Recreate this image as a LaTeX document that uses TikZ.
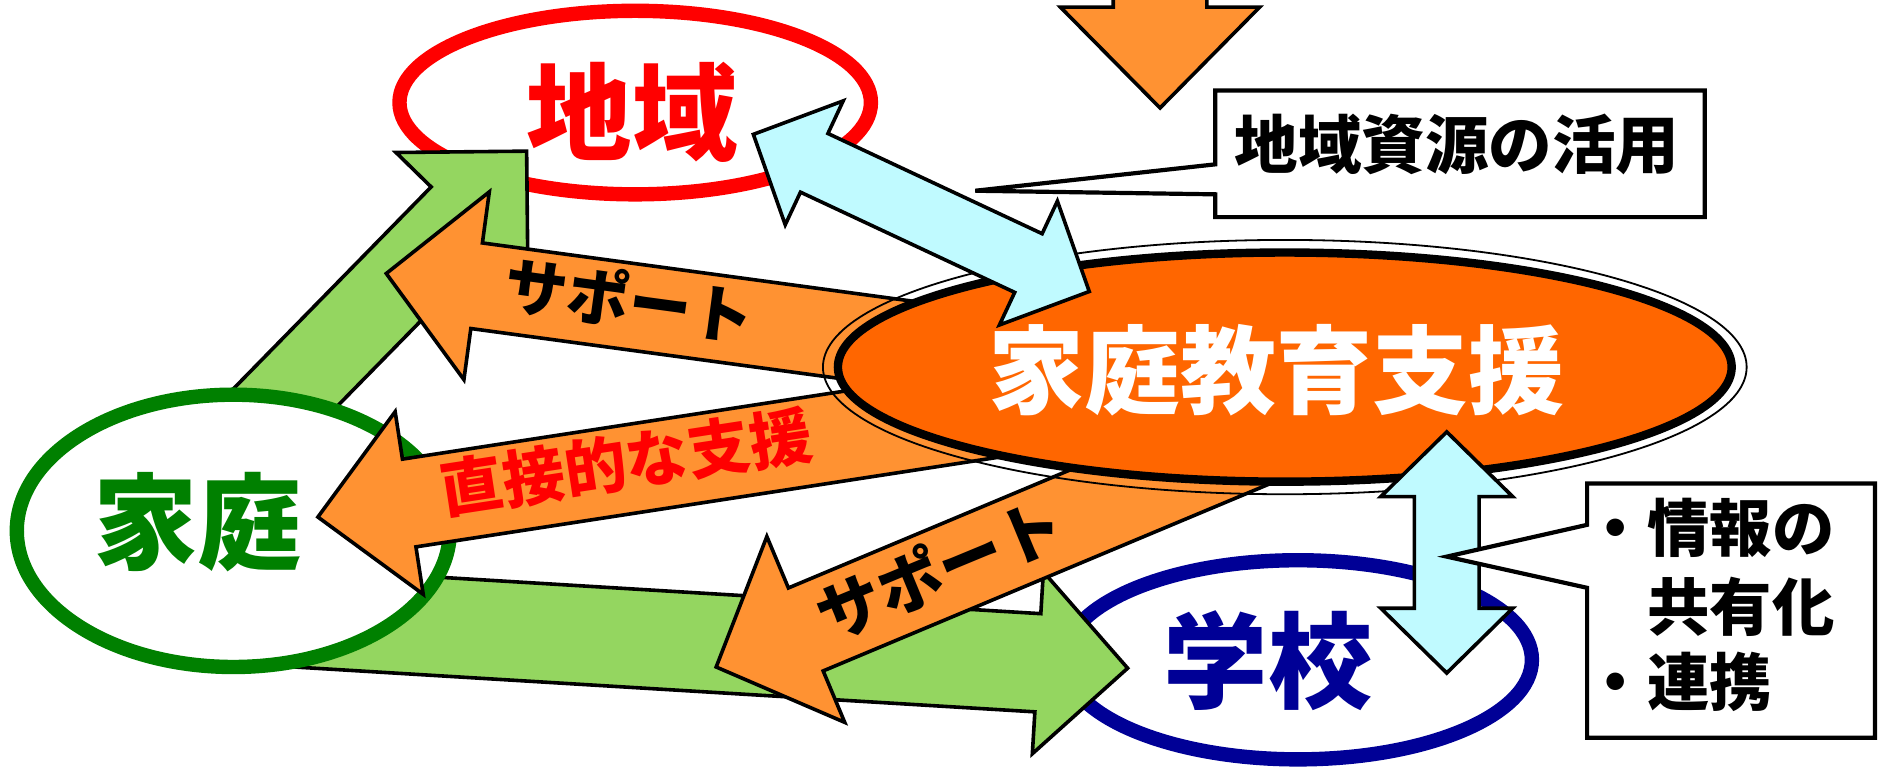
\documentclass[tikz,border=0pt]{standalone}
\usepackage{fontspec}
\newfontfamily\jp{Noto Sans CJK JP}
\usetikzlibrary{calc,shapes.geometric}
\definecolor{arrOrange}{RGB}{255,146,50}
\definecolor{cenOrange}{RGB}{255,102,0}
\definecolor{arrGreen}{RGB}{148,214,96}
\definecolor{arrCyan}{RGB}{192,250,255}
\definecolor{schoolBlue}{RGB}{0,0,150}
\definecolor{homeGreen}{RGB}{0,128,0}
\definecolor{areaRed}{RGB}{255,0,0}
\newcommand{\setfs}[1]{\fontsize{#1}{#1}\selectfont}
% style, start, tip, shaft half-width, head half-width, head length
\newcommand{\singlearrow}[6]{%
  \coordinate (hb) at ($(#3)!#6!(#2)$);
  \path[#1] ($(#2)!#4!90:(#3)$) -- ($(hb)!#4!90:(#3)$) -- ($(hb)!#5!90:(#3)$) -- (#3)
    -- ($(hb)!#5!-90:(#3)$) -- ($(hb)!#4!-90:(#3)$) -- ($(#2)!#4!-90:(#3)$) -- cycle;
}
\newcommand{\doublearrow}[6]{%
  \coordinate (ha) at ($(#2)!#6!(#3)$);
  \coordinate (hbb) at ($(#3)!#6!(#2)$);
  \path[#1] (#2) -- ($(ha)!#5!90:(#3)$) -- ($(ha)!#4!90:(#3)$) -- ($(hbb)!#4!90:(#3)$)
    -- ($(hbb)!#5!90:(#3)$) -- (#3) -- ($(hbb)!#5!-90:(#3)$) -- ($(hbb)!#4!-90:(#3)$)
    -- ($(ha)!#4!-90:(#3)$) -- ($(ha)!#5!-90:(#3)$) -- cycle;
}
\begin{document}
\begin{tikzpicture}[x=1pt,y=-1pt,
  blk/.style={draw=black,line width=3pt,line join=miter,miter limit=20},
  orangeArrow/.style={blk,fill=arrOrange},
  greenArrow/.style={blk,fill=arrGreen},
  cyanArrow/.style={blk,fill=arrCyan},
  ell/.style={ellipse,fill=white,line width=12pt,inner sep=0pt},
  callout/.style={draw=black,line width=3.5pt,fill=white,line join=miter},
  bigtxt/.style={inner sep=0pt,font={\jp\bfseries\setfs{#1}}},
  ]
\useasboundingbox (0,0) rectangle (1568,642);
\clip (0,0) rectangle (1568,642);

% named end points of the block arrows
\coordinate (topS) at (967,-30);   \coordinate (topT) at (967,90);
\coordinate (g1S) at (200,370);    \coordinate (g1T) at (439,126);
\coordinate (g2S) at (230,514);    \coordinate (g2T) at (940,557);
\coordinate (o1S) at (780,290);    \coordinate (o1T) at (322,228);
\coordinate (o2S) at (850,341);    \coordinate (o2T) at (265,431);
\coordinate (o3S) at (1060,362);   \coordinate (o3T) at (597,556);
\coordinate (c1A) at (628,112);    \coordinate (c1B) at (908,243);
\coordinate (c2A) at (1206,360);   \coordinate (c2B) at (1206,561);

% top down arrow
\singlearrow{orangeArrow}{topS}{topT}{39pt}{83pt}{84pt}

% outer ellipses
\node[ell,draw=areaRed,minimum width=393pt,minimum height=153pt] (chiiki) at (529.5,85.5) {};
\node[ell,draw=schoolBlue,minimum width=390pt,minimum height=166pt] (gakko) at (1082,550) {};

% green arrows
\singlearrow{greenArrow}{g1S}{g1T}{36pt}{77pt}{77pt}
\singlearrow{greenArrow}{g2S}{g2T}{41pt}{76pt}{75pt}

\node[ell,draw=homeGreen,minimum width=361pt,minimum height=227pt] (katei) at (194.5,442.5) {};

% orange arrows
\singlearrow{orangeArrow}{o1S}{o1T}{36pt}{79pt}{76pt}
\singlearrow{orangeArrow}{o2S}{o2T}{37pt}{77pt}{77pt}
\singlearrow{orangeArrow}{o3S}{o3T}{37.5pt}{84pt}{81pt}

% central ellipse
\node[ellipse,draw=black,line width=1.5pt,minimum width=770pt,minimum height=212pt] (ring) at (1071,306) {};
\node[ellipse,draw=black,fill=cenOrange,line width=7pt,minimum width=745pt,minimum height=191pt] (center) at (1071,306) {};

% cyan double arrows
\doublearrow{cyanArrow}{c1A}{c1B}{27pt}{57pt}{56pt}
\doublearrow{cyanArrow}{c2A}{c2B}{27pt}{55pt}{54pt}

% node texts
\node[bigtxt=88,text=areaRed] (chiikiT) at (527,94) {地域};
\node[bigtxt=87,text=homeGreen] (kateiT) at (165,435) {家庭};
\node[bigtxt=87,text=schoolBlue] (gakkoT) at (1057,551) {学校};
\node[bigtxt=80,text=white] (centerT) at (1064,309) {家庭教育支援};

% arrow labels
\node[bigtxt=52,text=black,rotate=-7.7] (sup1) at (525,250) {サポート};
\node[bigtxt=52,text=areaRed,rotate=8.7] (direct) at (522,385) {直接的な支援};
\node[bigtxt=54,text=black,rotate=22.5] (sup2) at (783,474) {サポート};

% callout: 地域資源の活用
\coordinate (p1) at (813,159);
\draw[callout] (1013,75.5) -- (1421,75.5) -- (1421,181) -- (1013,181) -- (1013,162) -- (p1) -- (1013,137) -- cycle;
\node[bigtxt=53,text=black] (res) at (1214.5,120.5) {地域資源の活用};

% callout: 情報の共有化・連携
\coordinate (p2) at (1206,464);
\draw[callout] (1323,403) -- (1563,403) -- (1563,615) -- (1323,615) -- (1323,490) -- (p2) -- (1323,437.5) -- cycle;
\node[bigtxt=52,text=black,anchor=west] (info1) at (1321,440) {・情報の};
\node[bigtxt=52,text=black,anchor=west] (info2) at (1373,506) {共有化};
\node[bigtxt=52,text=black,anchor=west] (info3) at (1321,568) {・連携};
\end{tikzpicture}
\end{document}
